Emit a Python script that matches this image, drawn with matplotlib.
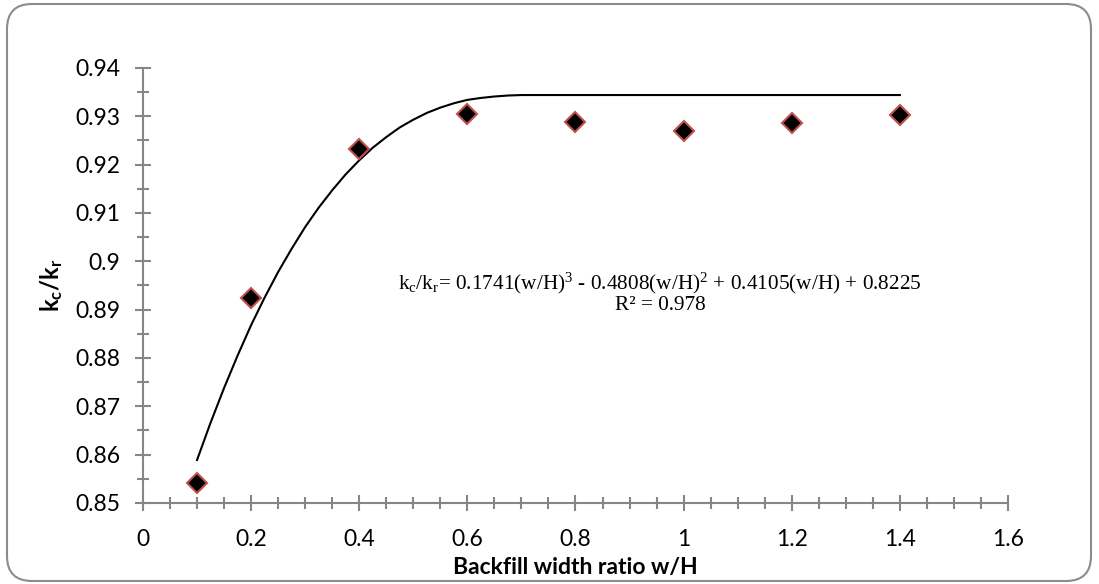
import numpy as np
import matplotlib
matplotlib.use("Agg")
import matplotlib.pyplot as plt
from matplotlib.patches import FancyBboxPatch
from matplotlib.transforms import IdentityTransform
from matplotlib.ticker import MultipleLocator, FuncFormatter

# measured points
ratio = [0.1, 0.2, 0.4, 0.6, 0.8, 1.0, 1.2, 1.4]
kc_kr = [0.8541, 0.8924, 0.9233, 0.9304, 0.9288, 0.9270, 0.9287, 0.9302]

# fitted curve as drawn in the chart
curve_x = [0.1, 0.125, 0.15, 0.175, 0.2, 0.225, 0.25, 0.275, 0.3, 0.325, 0.35,
           0.375, 0.4, 0.425, 0.45, 0.475, 0.5, 0.525, 0.55, 0.575, 0.6, 0.625,
           0.65, 0.675, 0.7, 1.0, 1.4]
curve_y = [0.8589, 0.8666, 0.8738, 0.8805, 0.8868, 0.8925, 0.8978, 0.9026,
           0.9071, 0.9111, 0.9147, 0.9180, 0.9209, 0.9235, 0.9257, 0.9277,
           0.9293, 0.9307, 0.9318, 0.9327, 0.9334, 0.9338, 0.9341, 0.9343,
           0.9344, 0.9344, 0.9344]

eq_text = "k$_c$/k$_r$= 0.1741(w/H)$^3$ - 0.4808(w/H)$^2$ + 0.4105(w/H) + 0.8225"
r2_text = "R² = 0.978"

axis_grey = "#868686"

plt.rcParams["mathtext.fontset"] = "custom"
plt.rcParams["mathtext.rm"] = "Liberation Serif"
plt.rcParams["mathtext.it"] = "Liberation Serif"
plt.rcParams["mathtext.bf"] = "Lato:bold"

fig = plt.figure(figsize=(10.99, 5.84), dpi=100)

# rounded chart border
border = FancyBboxPatch((7, 3), 1084, 577, boxstyle="round,pad=0,rounding_size=25",
                        transform=IdentityTransform(), ec="#8c8c8c", fc="none", lw=1.5)
fig.patches.append(border)

ax = fig.add_axes([0.1301, 0.1387, 0.9172 - 0.1301, 0.8836 - 0.1387])
ax.set_facecolor("none")

ax.plot(curve_x, curve_y, color="black", lw=1.5, zorder=2)
ax.plot(ratio, kc_kr, linestyle="none", marker="D", ms=10, mfc="black",
        mec="#c0504d", mew=1.5, zorder=3)

ax.set_xlim(0, 1.6)
ax.set_ylim(0.85, 0.94)
ax.xaxis.set_major_locator(MultipleLocator(0.2))
ax.xaxis.set_minor_locator(MultipleLocator(0.05))
ax.yaxis.set_major_locator(MultipleLocator(0.01))
ax.yaxis.set_minor_locator(MultipleLocator(0.005))
ax.xaxis.set_major_formatter(FuncFormatter(lambda v, p: f"{v:.2g}" if v else "0"))
ax.yaxis.set_major_formatter(FuncFormatter(lambda v, p: f"{round(v, 3):g}"))

for side in ["top", "right"]:
    ax.spines[side].set_visible(False)
for side in ["left", "bottom"]:
    ax.spines[side].set_color(axis_grey)
    ax.spines[side].set_linewidth(1.5)

ax.tick_params(which="major", direction="inout", length=11, width=1.5, color=axis_grey,
               labelsize=16.5)
ax.tick_params(which="minor", direction="inout", length=9, width=1.5, color=axis_grey)
ax.tick_params(axis="x", which="major", pad=13)
ax.tick_params(axis="y", which="major", pad=11)
for lab in ax.get_xticklabels() + ax.get_yticklabels():
    lab.set_fontfamily("Lato")

ax.set_xlabel("Backfill width ratio w/H", fontsize=16.5, fontweight="bold",
              fontfamily="Lato", labelpad=5)
ax.set_ylabel("k$_\\mathbf{c}$/k$_\\mathbf{r}$", fontsize=17, fontweight="bold",
              fontfamily="Lato", labelpad=7)

ax.text(0.957, 0.8955, eq_text, fontsize=15.3, fontfamily="Liberation Serif",
        ha="center", va="center")
ax.text(0.957, 0.8909, r2_text, fontsize=15.3, fontfamily="Liberation Serif",
        ha="center", va="center")

fig.savefig("out.png", dpi=100)
